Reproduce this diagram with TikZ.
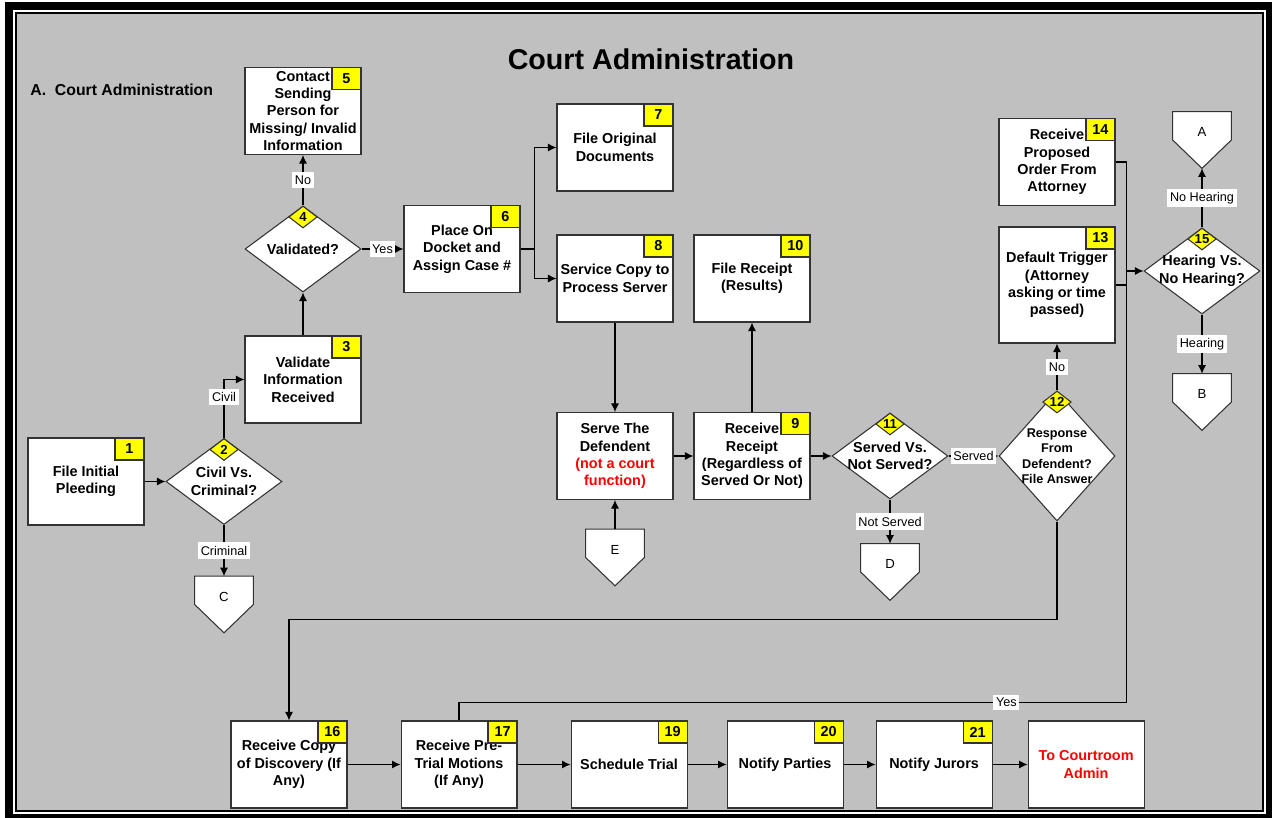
\documentclass[tikz,border=0pt]{standalone}
\usepackage{fontspec}
\setmainfont{Liberation Sans}
\usetikzlibrary{arrows.meta,positioning,calc,shapes.geometric}
\definecolor{bggray}{RGB}{192,192,192}
\definecolor{badgeyellow}{RGB}{255,255,0}
\definecolor{notered}{RGB}{255,0,0}
\tikzset{
  >={Latex[length=1.7mm,width=1.6mm]},
  box/.style={draw=black!80,fill=white,line width=0.6pt,minimum width=2.32cm,minimum height=1.74cm,inner sep=0pt,align=center,font=\bfseries\fontsize{8.2}{9.9}\selectfont},
  decision/.style={draw=black!80,fill=white,line width=0.6pt,diamond,minimum width=2.32cm,minimum height=1.72cm,inner sep=0pt},
  dtext/.style={align=center,font=\bfseries\fontsize{8.2}{9.9}\selectfont},
  badge/.style={draw=black!80,fill=badgeyellow,line width=0.6pt,minimum width=0.58cm,minimum height=0.44cm,inner sep=0pt,anchor=north east,font=\bfseries\fontsize{8.2}{9}\selectfont},
  dbadge/.style={draw=black!80,fill=badgeyellow,line width=0.6pt,diamond,minimum width=0.57cm,minimum height=0.44cm,inner sep=0pt,anchor=north},
  dbnum/.style={inner sep=0pt,font=\bfseries\fontsize{7.5}{8}\selectfont},
  offpage/.style={minimum width=1.16cm,minimum height=1.12cm,inner sep=0pt},
  offtext/.style={inner sep=0pt,font=\fontsize{7.5}{9}\selectfont},
  elabel/.style={fill=white,inner xsep=1.5pt,inner ysep=2pt,font=\fontsize{7.2}{8}\selectfont},
  arrow/.style={->,line width=0.6pt},
  line/.style={line width=0.6pt},
}
\begin{document}
\begin{tikzpicture}[x=0.02cm,y=-0.02cm]
  \useasboundingbox (0,0) rectangle (1272,818);
  % frame
  \fill[white] (0,0) rectangle (1272,818);
  \fill[black] (5,2) rectangle (1272,818);
  \fill[white] (13,10) rectangle (1266,814);
  \fill[black] (15,12) rectangle (1264,812);
  \fill[bggray] (17,14) rectangle (1262,810);

  \node[font=\bfseries\fontsize{16.3}{19}\selectfont] (title) at (651,59) {Court Administration};
  \node[anchor=west,inner sep=0pt,font=\bfseries\fontsize{9}{11}\selectfont] (section) at (30,90) {A.\ \ Court Administration};

  % intake
  \node[box] (n1) at (86,481.5) {File Initial\\Pleeding};
  \node[decision,label={[dtext]center:{Civil Vs.\\Criminal?}}] (d2) at (224,481.5) {};
  \node[box] (n3) at (303,379.5) {Validate\\Information\\Received};
  \node[decision,label={[dtext]center:{Validated?}}] (d4) at (303,249) {};
  \node[box] (n5) at (303,111) {Contact\\Sending\\Person for\\Missing/ Invalid\\Information};
  \node[box] (n6) at (462,249) {Place On\\Docket and\\Assign Case \#};
  \node[box] (n7) at (615,147.5) {File Original\\Documents};
  \node[box] (n8) at (615,278.5) {Service Copy to\\Process Server};
  \node[box] (n10) at (752,278.5) {File Receipt\\(Results)};
  \node[box] (nserve) at (615,456) {Serve The\\Defendent\\{\color{notered}(not a court}\\{\color{notered}function)}};
  \node[box] (n9) at (752,456) {Receive\\Receipt\\(Regardless of\\Served Or Not)};
  \node[decision,label={[dtext]center:{Served Vs.\\Not Served?}}] (d11) at (890,456) {};
  \node[decision,minimum height=2.6cm,label={[dtext,font=\bfseries\fontsize{7.2}{8.8}\selectfont]center:{Response\\From\\Defendent?\\File Answer}}] (d12) at (1057,456) {};
  \node[box,minimum height=2.32cm] (n13) at (1057,285) {Default Trigger\\(Attorney\\asking or time\\passed)};
  \node[box] (n14) at (1057,162) {Receive\\Proposed\\Order From\\Attorney};
  \node[decision,label={[dtext]center:{Hearing Vs.\\No Hearing?}}] (d15) at (1202,271) {};

  % off-page connectors
  \node[offpage] (offA) at (1202,140) {};
  \node[offpage] (offB) at (1202,402) {};
  \node[offpage] (offC) at (224,604.5) {};
  \node[offpage] (offD) at (890,572) {};
  \node[offpage] (offE) at (615,557.5) {};
  \foreach \o in {offA,offB,offC,offD,offE}
    \draw[draw=black!80,fill=white,line width=0.6pt] (\o.north west) -- (\o.north east) -- (\o.east) -- (\o.south) -- (\o.west) -- cycle;
  \node[offtext] (tA) at ([yshift=1.6mm]offA.center) {A};
  \node[offtext] (tB) at ([yshift=1.6mm]offB.center) {B};
  \node[offtext] (tC) at ([yshift=1.6mm]offC.center) {C};
  \node[offtext] (tD) at ([yshift=1.6mm]offD.center) {D};
  \node[offtext] (tE) at ([yshift=1.6mm]offE.center) {E};

  % trial row
  \node[box] (n16) at (289,764.5) {Receive Copy\\of Discovery (If\\Any)};
  \node[box,right=1.06cm of n16] (n17) {Receive Pre-\\Trial Motions\\(If Any)};
  \node[box,right=1.06cm of n17] (n19) {Schedule Trial};
  \node[box,right=0.78cm of n19] (n20) {Notify Parties};
  \node[box,right=0.64cm of n20] (n21) {Notify Jurors};
  \node[box,right=0.7cm of n21] (ncourt) {\color{notered}To Courtroom\\\color{notered}Admin};

  % connectors
  \draw[arrow] (n1) -- (d2);
  \draw[arrow] (d2.north) |- node[elabel,pos=0.35]{Civil} (n3.west);
  \draw[arrow] (d2.south) -- node[elabel]{Criminal} (offC.north);
  \draw[arrow] (n3) -- (d4);
  \draw[arrow] (d4.north) -- node[elabel]{No} (n5.south);
  \draw[arrow] (d4) -- node[elabel]{Yes} (n6);
  \draw[arrow] (n6.east) -- ++(14,0) |- (n7.west);
  \draw[arrow] (n6.east) -- ++(14,0) |- (n8.west);
  \draw[arrow] (n8) -- (nserve);
  \draw[arrow] (offE) -- (nserve);
  \draw[arrow] (nserve) -- (n9);
  \draw[arrow] (n9) -- (n10);
  \draw[arrow] (n9) -- (d11);
  \draw[arrow] (d11) -- node[elabel]{Served} (d12);
  \draw[arrow] (d11.south) -- node[elabel]{Not Served} (offD.north);
  \draw[arrow] (d12.north) -- node[elabel]{No} (n13.south);
  \draw[arrow] (d12.south) -- ++(0,98) -| (n16.north);
  \draw[line] (n17.north) -- ++(0,-18) -| node[elabel,pos=0.41]{Yes} ($(n14.east)+(11,0)$) -- (n14.east);
  \draw[arrow] (n13.east) -- ++(11,0) |- (d15.west);
  \draw[arrow] (d15.north) -- node[elabel]{No Hearing} (offA.south);
  \draw[arrow] (d15.south) -- node[elabel]{Hearing} (offB.north);
  \draw[arrow] (n16) -- (n17);
  \draw[arrow] (n17) -- (n19);
  \draw[arrow] (n19) -- (n20);
  \draw[arrow] (n20) -- (n21);
  \draw[arrow] (n21) -- (ncourt);

  % step numbers
  \node[badge] (b1) at (n1.north east) {1};
  \node[badge] (b3) at (n3.north east) {3};
  \node[badge] (b5) at (n5.north east) {5};
  \node[badge] (b6) at (n6.north east) {6};
  \node[badge] (b7) at (n7.north east) {7};
  \node[badge] (b8) at (n8.north east) {8};
  \node[badge] (b9) at (n9.north east) {9};
  \node[badge] (b10) at (n10.north east) {10};
  \node[badge] (b13) at (n13.north east) {13};
  \node[badge] (b14) at (n14.north east) {14};
  \node[badge] (b16) at (n16.north east) {16};
  \node[badge] (b17) at (n17.north east) {17};
  \node[badge] (b19) at (n19.north east) {19};
  \node[badge] (b20) at (n20.north east) {20};
  \node[badge] (b21) at (n21.north east) {21};
  \node[dbadge,label={[dbnum]center:2}] (b2) at (d2.north) {};
  \node[dbadge,label={[dbnum]center:4}] (b4) at (d4.north) {};
  \node[dbadge,label={[dbnum]center:11}] (b11) at (d11.north) {};
  \node[dbadge,label={[dbnum]center:12}] (b12) at (d12.north) {};
  \node[dbadge,label={[dbnum]center:15}] (b15) at (d15.north) {};
\end{tikzpicture}
\end{document}
